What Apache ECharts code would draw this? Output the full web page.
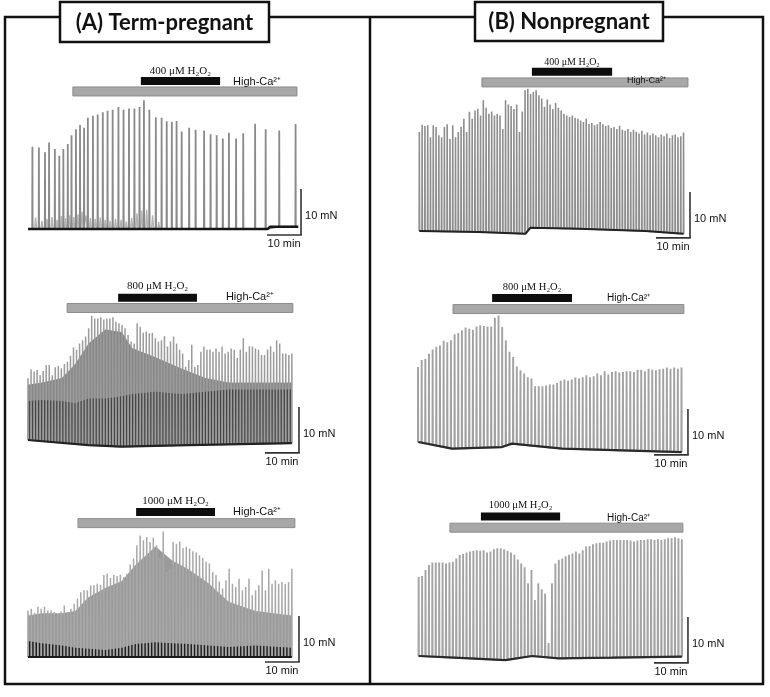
<!DOCTYPE html>
<html><head><meta charset="utf-8">
<script src="https://cdn.jsdelivr.net/npm/echarts@6/dist/echarts.min.js"></script>
<style>html,body{margin:0;padding:0;background:#fff}#c{width:770px;height:697px}</style>
</head><body><div id="c"></div>
<script>
// ================= DATA =================
const panelTitles = ['(A) Term-pregnant', '(B) Nonpregnant'];
const doseLabels = ['400 μM H₂O₂', '800 μM H₂O₂', '1000 μM H₂O₂'];
const calciumLabel = 'High-Ca²⁺';
const scaleForceLabel = '10 mN';
const scaleTimeLabel = '10 min';
const scaleForce = 10;   // mN
const scaleTime = 10;    // min

// treatment windows (minutes)
const a1Calcium = [13.2, 79.1], a1Peroxide = [33.2, 56.5];
const b1Calcium = [18.8, 79.4], b1Peroxide = [33.5, 57.1];
const a2Calcium = [11.5, 77.9], a2Peroxide = [26.5, 49.7];
const b2Calcium = [10.3, 78.2], b2Peroxide = [21.8, 45.3];
const a3Calcium = [14.7, 78.5], a3Peroxide = [31.8, 55.0];
const b3Calcium = [9.4, 77.9],  b3Peroxide = [18.5, 41.8];

// A1: term-pregnant, 400 uM  (contraction times in min, peak force in mN)
const a1Times = [1.3,3.2,5.0,6.2,7.9,9.2,10.4,11.7,12.8,14.1,15.3,16.5,17.6,19.1,20.5,22.0,23.4,24.9,26.6,28.1,29.7,31.3,32.8,34.1,35.7,37.6,39.3,40.8,42.3,43.7,45.2,47.4,49.3,51.8,53.7,55.5,57.3,59.1,61.2,63.3,66.8,69.9,73.9,78.7];
const a1Peaks = [17.9,17.7,16.7,18.8,17.4,15.9,17.4,18.5,20.4,21.7,22.6,22.0,24.2,24.6,24.9,25.4,25.7,25.9,26.5,25.9,26.2,26.2,26.5,28.0,25.9,24.3,24.2,23.4,23.3,23.5,21.2,22.0,21.6,21.4,20.6,20.4,19.7,20.9,19.7,20.8,22.9,21.7,21.4,22.8];
const a1Minor = [2.5,1.8,2.2,2.6,2.0,2.8,2.4,3.0,2.6,3.2,3.8,2.9,2.4,2.2,2.5,2.0,1.8,2.2,2.0,1.6,2.4,3.4,4.0,4.2,3.0,1.5];
const a1BaseT = [0, 70.5, 71.2, 79.5];
const a1BaseV = [0, 0, 0.5, 0.5];

// B1: nonpregnant, 400 uM
const b1Span = [0.4, 78.1];
const b1Peaks = [21.5,23.1,22.8,23.0,20.4,23.0,22.6,20.8,20.4,22.6,23.2,20.0,23.0,20.4,
  21.5,22.6,24.4,21.5,25.9,24.4,26.2,26.6,25.1,28.4,26.8,25.5,26.0,
  25.1,25.5,25.1,22.2,28.4,27.5,27.2,26.5,27.5,21.5,26.0,
  30.6,30.9,29.8,30.2,30.6,29.5,28.8,27.0,28.6,27.5,26.5,27.8,26.8,
  26.2,25.5,25.1,24.8,25.1,24.6,24.4,24.0,23.7,24.4,23.3,23.5,23.0,23.2,
  23.7,23.2,22.8,23.0,22.4,22.6,22.2,22.9,22.0,21.8,22.2,21.5,22.0,21.6,21.2,21.8,21.0,21.4,20.8,
  21.2,20.8,20.4,21.0,20.6,21.2,20.2,20.8,21.0,20.4,20.6,21.4];
const b1BaseT = [0.4, 17.8, 31.6, 33.0, 47.3, 66.9, 78.1];
const b1BaseV = [0, -0.2, -0.6, 0.7, 0.5, 0, -0.6];

// A2: term-pregnant, 800 uM
const a2Span = [0, 77.6];
const a2Peaks = [13.4,15.4,14.9,15.2,14.1,15.0,16.3,16.3,14.1,15.8,16.1,15.6,16.5,17.0,18.3,20.1,19.6,21.0,21.7,22.5,
  24.3,27.0,26.4,26.4,26.7,26.2,26.4,26.4,26.7,25.7,25.4,25.0,24.3,22.8,21.4,21.0,25.4,24.6,23.3,23.6,
  23.2,23.3,22.1,21.4,21.7,22.6,20.3,21.4,22.5,21.0,19.6,18.8,15.9,17.4,20.7,15.9,16.3,19.2,20.3,19.6,
  19.7,19.2,19.9,19.2,20.3,18.8,19.2,19.9,19.6,17.8,19.6,22.1,19.2,20.4,20.3,19.9,19.6,18.5,18.5,19.7,
  20.4,19.2,21.7,21.0,18.8,18.8,18.5,18.8];
const a2BaseT = [0, 17.8, 27.6, 47.3, 77.6];
const a2BaseV = [0, -1.1, -1.45, -1.1, -0.7];
const a2BandT = [0, 4.1, 10, 13.9, 17.8, 22.7, 27.6, 30.6, 37.5, 45.3, 52.2, 59, 66.9, 77.6];
const a2Dense = [12, 12.5, 13.5, 16.5, 21, 24, 23.5, 20, 18, 15.5, 13.5, 12.5, 12.5, 12.5];
const a2Tonic = [8.5, 8.7, 8.5, 8, 9, 9, 9.5, 10, 10.5, 10, 10.5, 11, 11, 11];

// B2: nonpregnant, 800 uM
const b2Span = [0, 77.5];
const b2Peaks = [16.3,17.8,18.1,19.2,20.1,20.7,21.0,22.0,21.7,22.1,
  23.4,23.7,24.3,24.9,24.6,24.4,25.1,25.4,25.2,25.1,
  25.1,27.0,27.5,25.0,22.1,19.6,18.5,16.4,15.6,14.9,
  14.1,13.8,12.1,12.1,12.1,12.3,12.5,12.5,12.8,13.3,
  13.6,13.3,13.6,14.0,13.8,14.1,14.5,14.1,14.3,14.9,
  14.5,15.4,14.7,15.2,15.4,15.1,15.2,15.4,15.4,15.2,
  15.7,15.7,15.4,15.9,15.7,15.6,15.8,15.9,16.2,15.9,16.2,15.9,16.2];
const b2BaseT = [0.1, 10, 24.7, 27.6, 42.4, 77.6];
const b2BaseV = [0, -1.45, -1.1, -0.36, -1.45, -2.2];

// A3: term-pregnant, 1000 uM
const a3Span = [0, 77.6];
const a3Peaks = [10.1,10.5,9.6,10.9,10.5,10.9,10.1,10.1,9.8,9.4,9.9,11.2,9.6,10.5,11.6,12.7,14.1,14.5,14.5,15.6,
  15.6,15.9,15.7,17.8,18.1,17.2,17.8,17.6,17.9,17.4,18.1,20.1,21.4,24.3,26.4,25.4,26.1,25.0,25.9,24.3,
  21.4,27.3,18.5,19.2,25.0,24.6,25.1,23.7,23.9,23.6,23.0,22.7,22.1,21.5,20.7,20.3,18.5,17.8,16.4,14.9,
  16.7,19.2,15.9,15.2,17.0,14.5,15.2,17.0,13.4,14.5,15.6,18.8,14.5,19.2,15.9,16.7,15.9,16.3,15.9,16.3,19.2];
const a3BaseT = [0, 77.6];
const a3BaseV = [0, 0];
const a3BandT = [0, 4.1, 10, 13.9, 17.8, 22.7, 27.6, 31.6, 37.5, 42.4, 47.3, 53.2, 59, 66.9, 77.6];
const a3Dense = [9, 9.5, 9.5, 10, 13, 15, 16.5, 20, 24, 21, 19, 16, 12, 10, 9];
const a3Tonic = [3.5, 3.0, 2.5, 2.0, 1.8, 1.5, 2.0, 2.8, 3.2, 3.0, 2.8, 2.5, 2.2, 2.5, 2.0];

// B3: nonpregnant, 1000 uM
const b3Span = [0.2, 77.6];
const b3Peaks = [17.2,17.4,18.7,19.8,20.3,20.3,20.3,20.3,20.1,20.3,20.5,21.2,22.0,22.2,22.5,22.7,22.9,23.0,22.9,23.0,
  22.5,22.7,23.2,23.4,23.4,23.2,22.9,22.5,22.0,21.0,20.1,19.3,15.8,18.7,12.2,15.8,14.5,13.6,2.8,15.8,
  20.1,20.9,21.2,21.7,22.0,22.3,22.7,22.3,23.0,23.8,23.9,24.3,24.5,24.6,24.6,24.9,25.1,25.2,25.2,25.2,
  25.2,25.2,25.1,24.9,25.1,25.2,25.2,25.4,25.4,25.2,25.4,25.2,25.4,25.6,25.6,25.8,25.6,25.4];
const b3BaseT = [0.2, 10.7, 25.7, 33.5, 41.4, 57, 77.6];
const b3BaseV = [0, -0.36, -0.9, 0, -0.5, -0.36, -0.15];

// ================= LAYOUT (positions / styles) =================
const PX_PER_MIN = 3.4, PX_PER_MN = 4.6, T_MAX = 92, Y_MIN = -8, Y_MAX = 38;
const panels = [
  {x0: 28,  base: 229, caY: 29.9, h2Y: 32.2, doseY: 34.3, caLabT: 60.3, caLabY: 32.0, sbT: 80.3, sbB: -1.3, labFont: 11, doseFont: 11,
   calcium: a1Calcium, peroxide: a1Peroxide, dose: doseLabels[0]},
  {x0: 418, base: 231, caY: 32.3, h2Y: 34.6, doseY: 36.7, caLabT: 61.5, caLabY: 32.8, sbT: 80.0, sbB: -1.5, labFont: 9, doseFont: 10,
   calcium: b1Calcium, peroxide: b1Peroxide, dose: doseLabels[0]},
  {x0: 28,  base: 440, caY: 28.7, h2Y: 30.9, doseY: 33.5, caLabT: 58.2, caLabY: 31.1, sbT: 79.7, sbB: -2.8, labFont: 11, doseFont: 11,
   calcium: a2Calcium, peroxide: a2Peroxide, dose: doseLabels[1]},
  {x0: 418, base: 442, caY: 28.9, h2Y: 31.3, doseY: 33.7, caLabT: 55.6, caLabY: 31.3, sbT: 79.4, sbB: -2.8, labFont: 10, doseFont: 10.5,
   calcium: b2Calcium, peroxide: b2Peroxide, dose: doseLabels[1]},
  {x0: 28,  base: 657, caY: 29.1, h2Y: 31.5, doseY: 33.9, caLabT: 60.3, caLabY: 31.5, sbT: 79.7, sbB: -1.1, labFont: 11, doseFont: 11,
   calcium: a3Calcium, peroxide: a3Peroxide, dose: doseLabels[2]},
  {x0: 418, base: 656, caY: 27.9, h2Y: 30.3, doseY: 32.8, caLabT: 55.6, caLabY: 30.0, sbT: 79.4, sbB: -1.5, labFont: 10, doseFont: 10.5,
   calcium: b3Calcium, peroxide: b3Peroxide, dose: doseLabels[2]},
];

// ================= HELPERS =================
function baseFn(bt, bv) {
  return function (t) {
    if (t <= bt[0]) return bv[0];
    for (let i = 1; i < bt.length; i++) {
      if (t <= bt[i]) { const f = (t - bt[i-1]) / (bt[i] - bt[i-1]); return bv[i-1] + f * (bv[i] - bv[i-1]); }
    }
    return bv[bv.length - 1];
  };
}
function evenTimes(span, n) { const out = []; for (let i = 0; i < n; i++) out.push(span[0] + (span[1] - span[0]) * i / (n - 1)); return out; }
function spikeLine(times, peaks, bf, hw) {
  const d = [];
  for (let i = 0; i < peaks.length; i++) {
    const t = times[i], b = bf(t);
    d.push([t - hw, b], [t, peaks[i]], [t + hw, b]);
  }
  return d;
}
function lineSeries(idx, data, color, width, z) {
  return {type: 'line', xAxisIndex: idx, yAxisIndex: idx, data, symbol: 'none', showSymbol: false, silent: true,
    animation: false, clip: false, z, lineStyle: {color, width, join: 'bevel', cap: 'butt'}};
}
function baselineSeries(idx, bt, bv, color, width) {
  return lineSeries(idx, bt.map((t, i) => [t, bv[i]]), color, width, 6);
}
function bandSeries(idx, times, tops, bf, color, z) {
  return {type: 'custom', xAxisIndex: idx, yAxisIndex: idx, data: [0], silent: true, animation: false, z,
    renderItem: (p, api) => {
      const pts = times.map((t, i) => api.coord([t, tops[i]]));
      for (let i = times.length - 1; i >= 0; i--) pts.push(api.coord([times[i], bf(times[i])]));
      return {type: 'polygon', shape: {points: pts}, style: {fill: color}};
    }};
}
function annotSeries(idx, P) {
  return {type: 'custom', xAxisIndex: idx, yAxisIndex: idx, data: [0], silent: true, animation: false, z: 10,
    renderItem: (p, api) => {
      const c0 = api.coord([P.calcium[0], P.caY]), c1 = api.coord([P.calcium[1], P.caY]);
      const h0 = api.coord([P.peroxide[0], P.h2Y]), h1 = api.coord([P.peroxide[1], P.h2Y]);
      const dl = api.coord([(P.peroxide[0] + P.peroxide[1]) / 2, P.doseY]);
      const cl = api.coord([P.caLabT, P.caLabY]);
      const sb = api.coord([P.sbT, P.sbB]);
      const sbTop = api.coord([P.sbT, P.sbB + scaleForce]);
      const sbLeft = api.coord([P.sbT - scaleTime, P.sbB]);
      return {type: 'group', children: [
        {type: 'rect', shape: {x: c0[0], y: c0[1] - 4.5, width: c1[0] - c0[0], height: 9}, style: {fill: '#a8a8a8', stroke: '#8c8c8c', lineWidth: 1}},
        {type: 'rect', shape: {x: h0[0], y: h0[1] - 4, width: h1[0] - h0[0], height: 8}, style: {fill: '#0d0d0d'}},
        {type: 'text', x: dl[0], y: dl[1], style: {text: P.dose, font: P.doseFont + 'px "Liberation Serif"', fill: '#111', align: 'center', verticalAlign: 'middle', textAlign: 'center', textVerticalAlign: 'middle'}},
        {type: 'text', x: cl[0], y: cl[1], style: {text: calciumLabel, font: P.labFont + 'px "Liberation Sans"', fill: '#111', align: 'left', verticalAlign: 'middle', textAlign: 'left', textVerticalAlign: 'middle'}},
        {type: 'line', shape: {x1: sb[0], y1: sb[1], x2: sbTop[0], y2: sbTop[1]}, style: {stroke: '#333', lineWidth: 1.6}},
        {type: 'line', shape: {x1: sbLeft[0], y1: sb[1], x2: sb[0] + 0.8, y2: sb[1]}, style: {stroke: '#333', lineWidth: 1.6}},
        {type: 'text', x: sb[0] + 4, y: sb[1] - 19, style: {text: scaleForceLabel, font: '11px "Liberation Sans"', fill: '#111', align: 'left', verticalAlign: 'middle', textAlign: 'left', textVerticalAlign: 'middle'}},
        {type: 'text', x: (sb[0] + sbLeft[0]) / 2, y: sb[1] + 9, style: {text: scaleTimeLabel, font: '11px "Liberation Sans"', fill: '#111', align: 'center', verticalAlign: 'middle', textAlign: 'center', textVerticalAlign: 'middle'}},
      ]};
    }};
}

// ================= BUILD =================
const grids = [], xAxes = [], yAxes = [], series = [];
panels.forEach((P, i) => {
  grids.push({left: P.x0, top: P.base - Y_MAX * PX_PER_MN, width: T_MAX * PX_PER_MIN, height: (Y_MAX - Y_MIN) * PX_PER_MN, containLabel: false});
  xAxes.push({type: 'value', gridIndex: i, min: 0, max: T_MAX, show: false});
  yAxes.push({type: 'value', gridIndex: i, min: Y_MIN, max: Y_MAX, show: false});
  series.push(annotSeries(i, P));
});

const HW = 0.06;
// A1
{
  const bf = baseFn(a1BaseT, a1BaseV);
  const minorT = a1Minor.map((v, i) => (a1Times[i] + a1Times[i + 1]) / 2);
  series.push(lineSeries(0, spikeLine(minorT, a1Minor, bf, 0.3), '#b4b4b4', 1.4, 2));
  series.push(lineSeries(0, spikeLine(a1Times, a1Peaks, bf, HW), '#8a8a8a', 1.8, 3));
  series.push(baselineSeries(0, a1BaseT, a1BaseV, '#161616', 2.4));
}
// B1
{
  const bf = baseFn(b1BaseT, b1BaseV);
  series.push(lineSeries(1, spikeLine(evenTimes(b1Span, b1Peaks.length), b1Peaks, bf, HW), '#8e8e8e', 1.6, 3));
  series.push(baselineSeries(1, b1BaseT, b1BaseV, '#222', 2));
}
// A2
{
  const bf = baseFn(a2BaseT, a2BaseV);
  series.push(bandSeries(2, a2BandT, a2Dense, bf, '#878787', 1));
  series.push(bandSeries(2, a2BandT, a2Tonic, bf, '#454545', 2));
  series.push(lineSeries(2, spikeLine(evenTimes(a2Span, a2Peaks.length), a2Peaks, bf, HW), '#9c9c9c', 1.5, 3));
  series.push(baselineSeries(2, a2BaseT, a2BaseV, '#222', 2.2));
}
// B2
{
  const bf = baseFn(b2BaseT, b2BaseV);
  series.push(lineSeries(3, spikeLine(evenTimes(b2Span, b2Peaks.length), b2Peaks, bf, HW), '#a2a2a2', 1.9, 3));
  series.push(baselineSeries(3, b2BaseT, b2BaseV, '#2a2a2a', 2.2));
}
// A3
{
  const bf = baseFn(a3BaseT, a3BaseV);
  series.push(bandSeries(4, a3BandT, a3Dense, bf, '#9a9a9a', 1));
  series.push(bandSeries(4, a3BandT, a3Tonic, bf, '#1e1e1e', 2));
  series.push(lineSeries(4, spikeLine(evenTimes(a3Span, a3Peaks.length), a3Peaks, bf, HW), '#a8a8a8', 1.5, 3));
  series.push(baselineSeries(4, a3BaseT, a3BaseV, '#1a1a1a', 2));
}
// B3
{
  const bf = baseFn(b3BaseT, b3BaseV);
  series.push(lineSeries(5, spikeLine(evenTimes(b3Span, b3Peaks.length), b3Peaks, bf, HW), '#a4a4a4', 1.9, 3));
  series.push(baselineSeries(5, b3BaseT, b3BaseV, '#2a2a2a', 2.2));
}

const chart = echarts.init(document.getElementById('c'), null, {renderer: 'canvas'});
chart.setOption({
  backgroundColor: '#fff',
  animation: false,
  grid: grids, xAxis: xAxes, yAxis: yAxes, series,
  graphic: [
    {type: 'rect', z: 100, shape: {x: 5, y: 17, width: 758, height: 667}, style: {fill: 'none', stroke: '#111', lineWidth: 2.5}},
    {type: 'line', z: 100, shape: {x1: 370, y1: 17, x2: 370, y2: 684}, style: {stroke: '#111', lineWidth: 2.5}},
    {type: 'rect', z: 101, shape: {x: 60, y: 2, width: 209, height: 40}, style: {fill: '#fff', stroke: '#111', lineWidth: 2.5}},
    {type: 'text', z: 102, x: 164.5, y: 23, style: {text: panelTitles[0], font: 'bold 22px Lato', fill: '#111', align: 'center', verticalAlign: 'middle', textAlign: 'center', textVerticalAlign: 'middle'}},
    {type: 'rect', z: 101, shape: {x: 475, y: 2, width: 188, height: 39}, style: {fill: '#fff', stroke: '#111', lineWidth: 2.5}},
    {type: 'text', z: 102, x: 569, y: 22, style: {text: panelTitles[1], font: 'bold 22px Lato', fill: '#111', align: 'center', verticalAlign: 'middle', textAlign: 'center', textVerticalAlign: 'middle'}},
  ]
});
</script></body></html>
